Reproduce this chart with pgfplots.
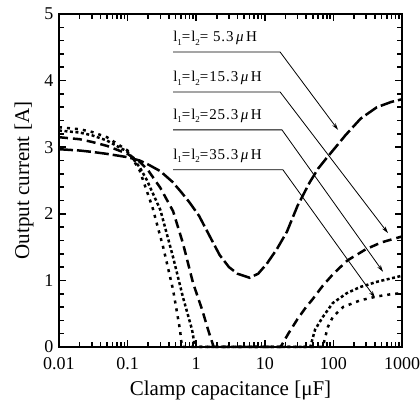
\documentclass[border=0pt]{standalone}
\usepackage{fontspec}
\setmainfont{Liberation Serif}
\usepackage{pgfplots}
\pgfplotsset{compat=1.18}
\usetikzlibrary{arrows.meta}

% annotation label: l1=l2=value uH
\newcommand{\lab}[1]{l\raisebox{-0.45ex}{\fontsize{9}{9}\selectfont 1}=l\raisebox{-0.45ex}{\fontsize{9}{9}\selectfont 2}=#1\,{\itshape μ}\,H}

\begin{document}
\begin{tikzpicture}
\useasboundingbox (0,0) rectangle (420pt,406pt);
\begin{axis}[
    at={(59pt,59pt)}, anchor=south west,
    scale only axis,
    width=343pt, height=333pt,
    xmode=log,
    xmin=0.01, xmax=1000,
    ymin=0, ymax=5,
    xtick={0.01,0.1,1,10,100,1000},
    xticklabels={0.01,0.1,1,10,100,1000},
    ytick={0,1,2,3,4,5},
    minor ytick={0.2,0.4,...,4.8},
    xtick pos=both, ytick pos=both,
    tick align=inside,
    major tick length=7pt,
    minor tick length=5pt,
    tick style={black, line width=1.6pt},
    axis on top,
    tick label style={font=\fontsize{18}{18}\selectfont},
    xticklabel style={yshift=-7pt},
    yticklabel style={xshift=-2pt},
    /pgf/number format/assume math mode=true,
    xlabel={Clamp capacitance [μF]},
    ylabel={Output current [A]},
    label style={font=\fontsize{21}{21}\selectfont},
    xlabel style={yshift=-4pt},
    ylabel style={yshift=4pt},
    clip=false,
]
% l = 5.3 uH
\addplot[black, line width=2.5pt, dash pattern=on 14pt off 4pt] coordinates {
(0.01,2.97)(0.02,2.95)(0.03,2.93)(0.05,2.9)(0.1,2.85)(0.15,2.8)(0.2,2.74)
(0.3,2.64)(0.45,2.48)(0.6,2.33)(0.8,2.17)(1.1,1.97)(1.6,1.65)(2.2,1.38)
(3,1.2)(4,1.1)(6,1.04)(8,1.1)(10.7,1.25)(15,1.47)(21,1.73)(30,2.12)
(45,2.47)(60,2.68)(80,2.84)(100,2.96)(150,3.18)(250,3.43)(430,3.6)
(700,3.68)(1000,3.72)};
% l = 15.3 uH
\addplot[black, line width=2.5pt, dash pattern=on 9pt off 5pt] coordinates {
(0.01,3.15)(0.02,3.12)(0.03,3.08)(0.05,3.02)(0.1,2.9)(0.15,2.78)(0.2,2.65)
(0.3,2.39)(0.46,2.04)(0.64,1.56)(0.9,0.96)(1.22,0.56)(1.5,0.25)(1.8,0)
(17,0)(22,0.2)(30,0.42)(40,0.6)(50,0.72)(70,0.92)(100,1.1)(160,1.3)
(300,1.47)(500,1.57)(1000,1.66)};
% l = 25.3 uH
\addplot[black, line width=2.5pt, dash pattern=on 3pt off 2.5pt] coordinates {
(0.01,3.25)(0.02,3.22)(0.03,3.18)(0.05,3.1)(0.1,2.93)(0.15,2.7)(0.19,2.51)
(0.3,2.06)(0.46,1.35)(0.64,0.75)(0.87,0.26)(0.96,0)(46,0)(54,0.26)
(70,0.45)(98,0.66)(158,0.81)(245,0.9)(435,0.98)(1000,1.07)};
% l = 35.3 uH
\addplot[black, line width=2.5pt, dash pattern=on 3pt off 5pt] coordinates {
(0.01,3.3)(0.02,3.27)(0.03,3.23)(0.05,3.15)(0.1,2.95)(0.15,2.65)(0.23,2.1)
(0.33,1.5)(0.46,0.86)(0.58,0.26)(0.62,0)(70,0)(83,0.3)(98,0.45)
(138,0.6)(245,0.7)(435,0.76)(670,0.79)(1000,0.81)};

% frame
\draw[line width=2.6pt] (rel axis cs:0,0) rectangle (rel axis cs:1,1);

% annotations
\begin{scope}[every node/.style={anchor=base west, inner sep=0pt, font=\fontsize{15}{15}\selectfont\addfontfeature{LetterSpace=6}}]
\node at (axis cs:0.46,4.58) {\lab{ 5.3}};
\node at (axis cs:0.46,3.98) {\lab{15.3}};
\node at (axis cs:0.46,3.41) {\lab{25.3}};
\node at (axis cs:0.46,2.81) {\lab{35.3}};
\end{scope}
\begin{scope}[line width=0.8pt, -{Stealth[length=7pt,width=4pt]}]
\draw (axis cs:0.46,4.43) -- (axis cs:16.7,4.43) -- (axis cs:117,3.26);
\draw (axis cs:0.46,3.83) -- (axis cs:16.7,3.83) -- (axis cs:625,1.71);
\draw (axis cs:0.46,3.26) -- (axis cs:17.8,3.26) -- (axis cs:529,1.13);
\draw (axis cs:0.46,2.66) -- (axis cs:18.4,2.66) -- (axis cs:404,0.74);
\end{scope}
\end{axis}
\end{tikzpicture}
\end{document}
